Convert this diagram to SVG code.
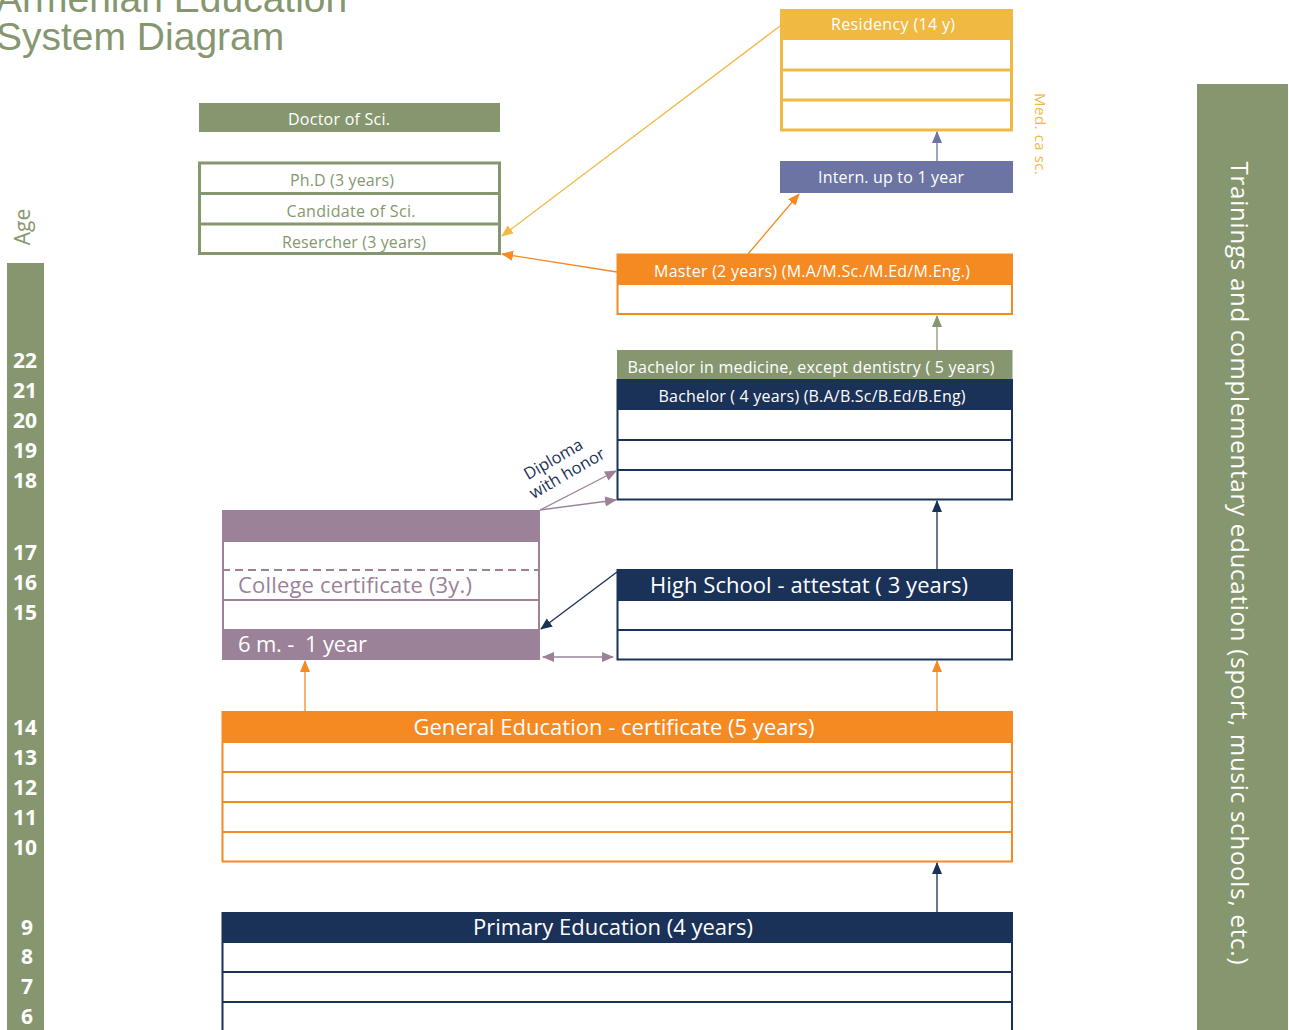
<svg xmlns="http://www.w3.org/2000/svg" width="1289" height="1030" viewBox="0 0 1289 1030">
<style>
.t{font-family:"Open Sans","Noto Sans","DejaVu Sans",sans-serif;}
.w{fill:#ffffff;}
.s16{font-size:16px;}
.s22{font-size:22px;}
.c{text-anchor:middle;}
.age{font-family:"Open Sans","Noto Sans",sans-serif;font-weight:bold;font-size:21px;fill:#ffffff;text-anchor:end;}
.cn{fill:none;stroke-width:1.3;}
</style>
<defs>
<marker id="aY" markerWidth="12" markerHeight="12" refX="11" refY="6" orient="auto" markerUnits="userSpaceOnUse"><path d="M0,1 L12,6 L0,11 z" fill="#f0b942"/></marker>
<marker id="aO" markerWidth="12" markerHeight="12" refX="11" refY="6" orient="auto" markerUnits="userSpaceOnUse"><path d="M0,1 L12,6 L0,11 z" fill="#f58a23"/></marker>
<marker id="aS" markerWidth="12" markerHeight="12" refX="11" refY="6" orient="auto" markerUnits="userSpaceOnUse"><path d="M0,1 L12,6 L0,11 z" fill="#6b74a3"/></marker>
<marker id="aG" markerWidth="12" markerHeight="12" refX="11" refY="6" orient="auto" markerUnits="userSpaceOnUse"><path d="M0,1 L12,6 L0,11 z" fill="#86976f"/></marker>
<marker id="aN" markerWidth="12" markerHeight="12" refX="11" refY="6" orient="auto" markerUnits="userSpaceOnUse"><path d="M0,1 L12,6 L0,11 z" fill="#1a3158"/></marker>
<marker id="aP" markerWidth="12" markerHeight="12" refX="11" refY="6" orient="auto" markerUnits="userSpaceOnUse"><path d="M0,1 L12,6 L0,11 z" fill="#9b8299"/></marker>
<marker id="aPs" markerWidth="12" markerHeight="12" refX="1" refY="6" orient="auto" markerUnits="userSpaceOnUse"><path d="M12,1 L0,6 L12,11 z" fill="#9b8299"/></marker>
</defs>
<rect width="1289" height="1030" fill="#ffffff"/>

<g id="title">
<text x="-4" y="12" font-family="Liberation Sans,Arial,sans-serif" font-size="39" fill="#86976f">Armenian Education</text>
<text x="-4" y="50" font-family="Liberation Sans,Arial,sans-serif" font-size="39" fill="#86976f">System Diagram</text>
</g>

<g id="age-axis">
<text class="t" font-size="21" fill="#86976f" transform="translate(30,227) rotate(-90)" text-anchor="middle">Age</text>
<rect x="7" y="263" width="37" height="767" fill="#86976f"/>
<text class="age" x="37" y="368">22</text>
<text class="age" x="37" y="398">21</text>
<text class="age" x="37" y="428">20</text>
<text class="age" x="37" y="458">19</text>
<text class="age" x="37" y="488">18</text>
<text class="age" x="37" y="560">17</text>
<text class="age" x="37" y="590">16</text>
<text class="age" x="37" y="620">15</text>
<text class="age" x="37" y="735">14</text>
<text class="age" x="37" y="765">13</text>
<text class="age" x="37" y="795">12</text>
<text class="age" x="37" y="825">11</text>
<text class="age" x="37" y="855">10</text>
<text class="age" x="33" y="935">9</text>
<text class="age" x="33" y="964">8</text>
<text class="age" x="33" y="994">7</text>
<text class="age" x="33" y="1024">6</text>
</g>

<g id="trainings">
<rect x="1197" y="84" width="91" height="946" fill="#86976f"/>
<text class="t w c" font-size="24" transform="translate(1231,563) rotate(90)" textLength="803">Trainings and complementary education (sport, music schools, etc.)</text>
</g>

<g id="med-label">
<text class="t c" font-size="15" fill="#f0b942" transform="translate(1035,134) rotate(90)" textLength="82">Med. ca sc.</text>
</g>

<g id="doctor">
<rect x="199" y="103" width="301" height="29" fill="#86976f"/>
<text class="t w s16 c" x="339" y="125" textLength="102">Doctor of Sci.</text>
</g>

<g id="phd">
<rect x="199.5" y="163" width="300" height="90.5" fill="#ffffff" stroke="#86976f" stroke-width="3"/>
<line x1="199" y1="193.5" x2="500" y2="193.5" stroke="#86976f" stroke-width="3"/>
<line x1="199" y1="224" x2="500" y2="224" stroke="#86976f" stroke-width="3"/>
<text class="t s16 c" fill="#86976f" x="342" y="186" textLength="104">Ph.D (3 years)</text>
<text class="t s16 c" fill="#86976f" x="351" y="217" textLength="129">Candidate of Sci.</text>
<text class="t s16 c" fill="#86976f" x="354" y="248" textLength="144">Resercher (3 years)</text>
</g>

<g id="residency">
<rect x="781.5" y="10.5" width="230" height="119.5" fill="#ffffff" stroke="#f0b942" stroke-width="3"/>
<rect x="780" y="9" width="233" height="31" fill="#f0b942"/>
<line x1="780" y1="70" x2="1013" y2="70" stroke="#f0b942" stroke-width="3"/>
<line x1="780" y1="100" x2="1013" y2="100" stroke="#f0b942" stroke-width="3"/>
<text class="t w s16 c" x="893" y="30" textLength="124">Residency (14 y)</text>
</g>

<g id="intern">
<rect x="780" y="161" width="233" height="32" fill="#6b74a3"/>
<text class="t w s16 c" x="891" y="183" textLength="146">Intern. up to 1 year</text>
</g>

<g id="master">
<rect x="617.5" y="254.5" width="394.5" height="59.5" fill="#ffffff" stroke="#f58a23" stroke-width="2"/>
<rect x="617" y="254" width="395.5" height="31" fill="#f58a23"/>
<text class="t w s16 c" x="812" y="277" textLength="316">Master (2 years) (M.A/M.Sc./M.Ed/M.Eng.)</text>
</g>

<g id="bachelor-med">
<rect x="617" y="350" width="395.5" height="30" fill="#86976f"/>
<text class="t w s16 c" x="811" y="373" textLength="367">Bachelor in medicine, except dentistry ( 5 years)</text>
</g>

<g id="bachelor">
<rect x="617.5" y="380" width="394.5" height="119.5" fill="#ffffff" stroke="#1a3158" stroke-width="2"/>
<rect x="617" y="380" width="395.5" height="30" fill="#1a3158"/>
<line x1="617" y1="440" x2="1012" y2="440" stroke="#1a3158" stroke-width="2"/>
<line x1="617" y1="470" x2="1012" y2="470" stroke="#1a3158" stroke-width="2"/>
<text class="t w s16 c" x="812" y="402" textLength="307">Bachelor ( 4 years) (B.A/B.Sc/B.Ed/B.Eng)</text>
</g>

<g id="college">
<rect x="223" y="511" width="316" height="148" fill="#ffffff" stroke="#9b8299" stroke-width="2"/>
<rect x="222" y="510" width="318" height="32" fill="#9b8299"/>
<line x1="222" y1="570" x2="540" y2="570" stroke="#9b8299" stroke-width="2" stroke-dasharray="8,5"/>
<line x1="222" y1="600" x2="540" y2="600" stroke="#9b8299" stroke-width="2"/>
<rect x="222" y="629" width="318" height="31" fill="#9b8299"/>
<text class="t s22" fill="#9b8299" x="238" y="593" textLength="234">College certificate (3y.)</text>
<text class="t w s22" x="238" y="652" textLength="129" xml:space="preserve">6 m. -  1 year</text>
</g>

<g id="high-school">
<rect x="617.5" y="570" width="394.5" height="89.5" fill="#ffffff" stroke="#1a3158" stroke-width="2"/>
<rect x="617" y="569" width="395.5" height="32" fill="#1a3158"/>
<line x1="617" y1="630" x2="1012" y2="630" stroke="#1a3158" stroke-width="2"/>
<text class="t w s22 c" x="809" y="593" textLength="318">High School - attestat ( 3 years)</text>
</g>

<g id="general">
<rect x="222.5" y="712" width="789.5" height="149.5" fill="#ffffff" stroke="#f58a23" stroke-width="2"/>
<rect x="222" y="711" width="790.5" height="32" fill="#f58a23"/>
<line x1="222" y1="772" x2="1012" y2="772" stroke="#f58a23" stroke-width="2"/>
<line x1="222" y1="802" x2="1012" y2="802" stroke="#f58a23" stroke-width="2"/>
<line x1="222" y1="832" x2="1012" y2="832" stroke="#f58a23" stroke-width="2"/>
<text class="t w s22 c" x="614" y="735" textLength="401">General Education - certificate (5 years)</text>
</g>

<g id="primary">
<rect x="222.5" y="913" width="789.5" height="125" fill="#ffffff" stroke="#1a3158" stroke-width="2"/>
<rect x="222" y="912" width="790.5" height="31" fill="#1a3158"/>
<line x1="222" y1="972" x2="1012" y2="972" stroke="#1a3158" stroke-width="2"/>
<line x1="222" y1="1002" x2="1012" y2="1002" stroke="#1a3158" stroke-width="2"/>
<text class="t w s22 c" x="613" y="935" textLength="280">Primary Education (4 years)</text>
</g>

<g id="diploma-label">
<text class="t c" font-size="16.5" fill="#1a3158" transform="translate(563,466) rotate(-30)"><tspan x="-5" y="-5">Diploma</tspan><tspan x="0" y="14">with honor</tspan></text>
</g>

<g id="connectors">
<line class="cn" x1="780" y1="26" x2="502" y2="236" stroke="#f0b942" marker-end="url(#aY)"/>
<line class="cn" x1="617" y1="272" x2="502" y2="254" stroke="#f58a23" marker-end="url(#aO)"/>
<line class="cn" x1="748" y1="254" x2="799" y2="194" stroke="#f58a23" marker-end="url(#aO)"/>
<line class="cn" x1="937" y1="161" x2="937" y2="132" stroke="#6b74a3" stroke-width="2" marker-end="url(#aS)"/>
<line class="cn" x1="937" y1="350" x2="937" y2="316" stroke="#86976f" marker-end="url(#aG)"/>
<line class="cn" x1="937" y1="569" x2="937" y2="501" stroke="#1a3158" marker-end="url(#aN)"/>
<line class="cn" x1="540" y1="510" x2="616" y2="471" stroke="#9b8299" marker-end="url(#aP)"/>
<line class="cn" x1="540" y1="510" x2="616" y2="500" stroke="#9b8299" marker-end="url(#aP)"/>
<line class="cn" x1="617" y1="572" x2="541" y2="629" stroke="#1a3158" marker-end="url(#aN)"/>
<line class="cn" x1="543" y1="657" x2="613" y2="657" stroke="#9b8299" marker-start="url(#aPs)" marker-end="url(#aP)"/>
<line class="cn" x1="305" y1="711" x2="305" y2="661" stroke="#f58a23" marker-end="url(#aO)"/>
<line class="cn" x1="937" y1="711" x2="937" y2="661" stroke="#f58a23" marker-end="url(#aO)"/>
<line class="cn" x1="937" y1="912" x2="937" y2="863" stroke="#1a3158" marker-end="url(#aN)"/>
</g>
</svg>
